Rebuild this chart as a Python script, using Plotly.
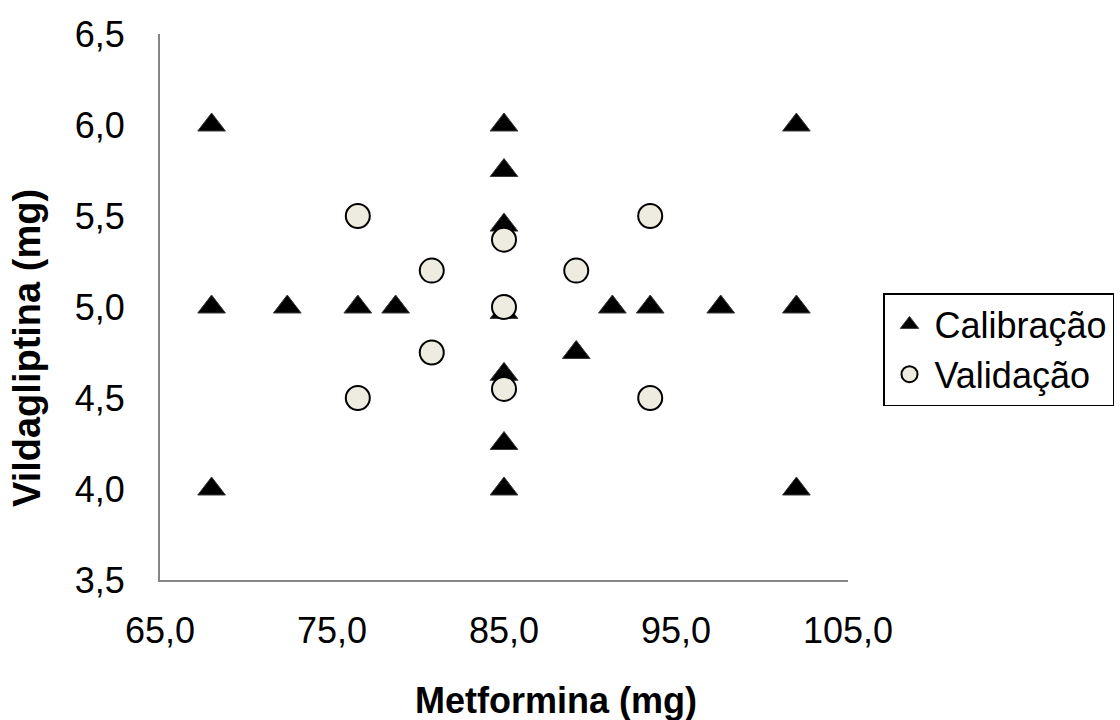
import plotly.graph_objects as go

# Calibration design points (Metformina mg, Vildagliptina mg)
cal_met = [68.0, 85.0, 102.0, 85.0, 85.0, 68.0, 72.4, 76.5, 78.7, 85.0, 91.3, 93.5, 97.6, 102.0,
           89.2, 85.0, 85.0, 68.0, 85.0, 102.0]
cal_vil = [6.0, 6.0, 6.0, 5.75, 5.45, 5.0, 5.0, 5.0, 5.0, 4.97, 5.0, 5.0, 5.0, 5.0,
           4.75, 4.63, 4.25, 4.0, 4.0, 4.0]

# Validation points
val_met = [76.5, 93.5, 80.8, 89.2, 85.0, 85.0, 80.8, 76.5, 85.0, 93.5]
val_vil = [5.5, 5.5, 5.2, 5.2, 5.37, 5.0, 4.75, 4.5, 4.55, 4.5]

x_ticks = [65, 75, 85, 95, 105]
y_ticks = [3.5, 4.0, 4.5, 5.0, 5.5, 6.0, 6.5]

FONT = "Liberation Sans, Arial, sans-serif"
AXIS_GRAY = "#868686"

fig = go.Figure()
fig.add_trace(go.Scatter(
    x=cal_met, y=cal_vil, mode="markers", name="Calibração",
    marker=dict(symbol="triangle-up", size=24, color="black",
                line=dict(color="#3a3a3a", width=1)),
))
fig.add_trace(go.Scatter(
    x=val_met, y=val_vil, mode="markers", name="Validação",
    marker=dict(symbol="circle", size=24, color="#EEECE1",
                line=dict(color="black", width=2)),
))

# plot area: x 160..848 px, y 34..580 px
L, R, T, B = 160, 848, 34, 580
W, H = R - L, B - T

def px(x):
    return (x - L) / W

def py(y):
    return (B - y) / H

fig.update_layout(
    width=1120, height=720,
    margin=dict(l=L, r=1120 - R, t=T, b=720 - B, autoexpand=False),
    paper_bgcolor="white", plot_bgcolor="white",
    separators=",.",
    font=dict(family=FONT, size=36, color="black"),
    showlegend=True,
    legend=dict(
        x=px(883), y=py(293), xanchor="left", yanchor="top",
        bordercolor="black", borderwidth=1.5,
        font=dict(family=FONT, size=36, color="black"),
        tracegroupgap=0, itemwidth=40,
    ),
    xaxis=dict(
        range=[65, 105], tickvals=x_ticks, tickformat=".1f",
        showgrid=False, zeroline=False, showline=True,
        linecolor=AXIS_GRAY, linewidth=2, ticks="",
        ticklabelstandoff=18, automargin=False,
        tickfont=dict(family=FONT, size=36, color="black"),
    ),
    yaxis=dict(
        range=[3.5, 6.5], tickvals=y_ticks, tickformat=".1f",
        showgrid=False, zeroline=False, showline=True,
        linecolor=AXIS_GRAY, linewidth=2, ticks="",
        ticklabelstandoff=26, automargin=False,
        tickfont=dict(family=FONT, size=36, color="black"),
    ),
    annotations=[
        dict(text="<b>Metformina (mg)</b>", xref="paper", yref="paper",
             x=px(556), y=py(700), xanchor="center", yanchor="middle",
             showarrow=False, font=dict(family=FONT, size=36, color="black")),
        dict(text="<b>Vildagliptina (mg)</b>", xref="paper", yref="paper",
             x=px(27), y=py(348), xanchor="center", yanchor="middle",
             textangle=-90, showarrow=False,
             font=dict(family=FONT, size=38, color="black")),
    ],
)

fig.write_html("out.html")
